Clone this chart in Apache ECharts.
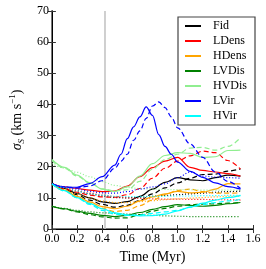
<!DOCTYPE html>
<html><head><meta charset="utf-8">
<script src="https://cdn.jsdelivr.net/npm/echarts@6/dist/echarts.min.js"></script>
<style>html,body{margin:0;padding:0;background:#fff}#c{width:266px;height:269px}</style>
</head><body><div id="c"></div>
<script>
// time grids (Myr)
const T = [0,0.1,0.2,0.3,0.4,0.5,0.6,0.7,0.8,0.9,1.0,1.1,1.2,1.3,1.4,1.5];
const T_LVIR = [0,0.1,0.2,0.3,0.4,0.5,0.55,0.6,0.65,0.7,0.75,0.8,0.85,0.9,0.95,1.0,1.1,1.2,1.3,1.4,1.5];
const X_TICKS = [0.0,0.2,0.4,0.6,0.8,1.0,1.2,1.4,1.6];
const Y_TICKS = [0,10,20,30,40,50,60,70];
const MODELS = ['Fid','LDens','HDens','LVDis','HVDis','LVir','HVir'];
const VLINE_T = 0.424;

// sigma_S (km/s): solid, dashed, dotted per model
const fidSolid   = [14.7,13.0,11.4,10.0,8.7,8.2,8.8,10.5,12.8,15.0,16.5,15.8,15.5,16.5,17.3,17.0];
const fidDashed  = [14.7,12.8,11.0,9.3,7.9,7.0,7.6,9.2,11.3,13.2,14.8,16.3,17.5,17.6,18.6,19.3];
const fidDotted  = [14.5,13.3,12.2,11.3,10.6,10.1,10.0,10.2,10.5,10.8,11.0,11.3,11.5,11.8,12.0,12.2];
const ldSolid    = [14.6,13.5,13.0,12.5,12.0,12.2,13.8,16.8,19.7,21.8,23.0,19.8,18.8,18.3,17.8,17.0];
const ldDashed   = [14.6,13.0,11.8,10.9,10.3,10.2,11.0,13.0,16.3,19.5,21.8,23.5,25.0,24.5,22.0,19.2];
const ldDotted   = [14.5,13.3,12.3,11.5,10.9,10.4,10.0,9.8,9.7,9.6,9.6,9.5,9.5,9.4,9.4,9.3];
const hdSolid    = [14.5,12.5,10.5,8.7,7.2,6.5,7.3,9.0,10.3,11.3,12.1,11.6,11.8,12.8,14.6,14.5];
const hdDashed   = [14.5,12.3,10.2,8.3,6.6,5.6,6.0,7.5,9.3,11.0,12.4,12.8,12.0,11.5,11.5,11.6];
const hdDotted   = [14.2,12.6,11.2,10.0,9.0,8.5,8.5,8.8,9.1,9.4,9.7,9.9,10.1,10.3,10.5,10.6];
const lvdSolid   = [7.3,6.5,5.7,5.0,4.4,4.0,4.4,5.3,6.3,7.2,7.8,7.6,7.3,7.6,8.1,8.5];
const lvdDashed  = [7.3,6.4,5.5,4.6,3.9,3.5,3.6,4.6,5.7,6.6,7.3,7.8,8.0,8.1,8.3,8.5];
const lvdDotted  = [7.3,6.6,6.0,5.5,5.2,5.0,4.8,4.6,4.4,4.2,4.1,4.0,4.0,4.0,4.0,4.0];
const hvdSolid   = [22.3,19.8,17.3,14.9,12.8,12.0,13.5,17.0,21.0,23.6,24.5,24.3,23.0,23.2,25.2,25.3];
const hvdDashed  = [22.0,19.5,17.0,14.8,12.9,12.2,12.6,15.3,19.2,22.3,24.0,26.0,26.2,25.3,26.5,29.3];
const hvdDotted  = [21.0,19.6,18.2,16.8,15.2,14.0,13.3,13.0,12.8,12.7,12.6,12.6,12.5,12.5,12.5,12.5];
const lvSolid    = [14.5,13.4,13.4,14.6,16.8,20.5,24.0,29.0,32.8,36.0,39.2,36.5,30.3,26.5,24.0,21.5,18.5,16.6,14.8,13.6,12.8];
const lvDashed   = [14.5,13.5,13.2,13.8,15.5,19.5,21.8,24.0,28.5,31.5,35.5,39.5,40.8,39.0,36.0,32.5,27.3,23.0,18.3,15.3,13.0];
const lvDotted   = [14.5,13.6,12.8,12.1,11.6,11.5,12.0,12.8,13.5,14.5,16.5,18.3,17.0,16.7,16.5,16.3];
const hvSolid    = [14.5,12.3,10.1,8.2,6.5,5.2,4.5,4.2,4.3,4.8,5.8,7.0,8.3,9.3,10.1,10.7];
const hvDashed   = [14.5,12.2,10.0,7.9,6.0,4.8,4.4,4.5,5.0,5.5,6.0,7.0,7.8,8.5,9.0,9.5];
const hvDotted   = [14.5,13.3,12.2,11.3,10.8,10.5,10.4,10.4,10.5,10.5,10.6,10.6,10.7,10.7,10.8,10.8];

const COLORS = {Fid:'#000000',LDens:'#ff0000',HDens:'#ffa500',LVDis:'#008000',HVDis:'#90ee90',LVir:'#0000ff',HVir:'#00ffff'};
const SETS = [
  ['Fid',  T, fidSolid, fidDashed, fidDotted, T],
  ['LDens',T, ldSolid, ldDashed, ldDotted, T],
  ['HDens',T, hdSolid, hdDashed, hdDotted, T],
  ['LVDis',T, lvdSolid, lvdDashed, lvdDotted, T],
  ['HVDis',T, hvdSolid, hvdDashed, hvdDotted, T],
  ['LVir', T_LVIR, lvSolid, lvDashed, lvDotted, T],
  ['HVir', T, hvSolid, hvDashed, hvDotted, T]
];
const zip = (xs, ys) => xs.map((x,i)=>[x, ys[i]]);
const series = [];
const styles = [['solid', null], ['dashed', [5,3]], ['dotted', [1,2]]];
SETS.forEach(([name, tx, s, d, o, tOther]) => {
  const arrs = [[tx, s], [tx, d], [tOther, o]];
  styles.forEach(([k, dash], i) => {
    series.push({
      type: 'line', name: i === 0 ? name : name + ' ' + k,
      data: zip(arrs[i][0], arrs[i][1]),
      showSymbol: false, smooth: 0.35, smoothMonotone: 'x',
      lineStyle: {color: COLORS[name], width: 1.2, type: dash || 'solid'},
      itemStyle: {color: COLORS[name]},
      silent: true, z: 3
    });
  });
});
series[0].markLine = {
  silent: true, symbol: 'none', label: {show: false},
  lineStyle: {color: '#c4c4c4', width: 1.6, type: 'solid'},
  data: [{xAxis: VLINE_T}], z: 1
};

const FONT = 'Liberation Serif';
const chart = echarts.init(document.getElementById('c'), null, {renderer: 'canvas'});
const xBase = {type: 'value', min: X_TICKS[0], max: X_TICKS[X_TICKS.length-1], interval: 0.2, splitLine: {show: false}};
const yBase = {type: 'value', min: Y_TICKS[0], max: Y_TICKS[Y_TICKS.length-1], interval: 10, splitLine: {show: false}};
chart.setOption({
  animation: false,
  backgroundColor: '#fff',
  grid: {left: 38, right: 13, top: 11, bottom: 37},
  legend: {
    data: MODELS, orient: 'vertical', left: 178, top: 17,
    icon: 'rect', itemWidth: 16, itemHeight: 2, itemGap: 1,
    backgroundColor: '#fff', borderColor: '#444', borderWidth: 1.2,
    padding: [2, 8, 2, 7], selectedMode: false,
    textStyle: {fontFamily: FONT, fontSize: 12, color: '#000', lineHeight: 14, padding: [0,0,0,7]}
  },
  xAxis: [
    Object.assign({}, xBase, {
      position: 'bottom', name: 'Time (Myr)', nameLocation: 'middle', nameGap: 21,
      nameTextStyle: {fontFamily: FONT, fontSize: 14, color: '#000'},
      axisLine: {lineStyle: {color: '#777', width: 2}},
      axisTick: {inside: true, length: 4, lineStyle: {color: '#333'}},
      axisLabel: {fontFamily: FONT, fontSize: 12, color: '#000', margin: 4, formatter: v => v.toFixed(1)}
    }),
    Object.assign({}, xBase, {
      position: 'top', axisLine: {lineStyle: {color: '#000', width: 1}},
      axisTick: {inside: true, length: 4, lineStyle: {color: '#333'}}, axisLabel: {show: false}
    })
  ],
  yAxis: [
    Object.assign({}, yBase, {
      position: 'left', nameLocation: 'middle', nameGap: 20,
      name: '{a|σ}{b|S} (km s{c|−1})',
      nameTextStyle: {fontFamily: FONT, fontSize: 14, color: '#000', lineHeight: 18,
        rich: {
          a: {fontFamily: FONT, fontSize: 14, fontStyle: 'italic', lineHeight: 18},
          b: {fontFamily: FONT, fontSize: 9, fontStyle: 'italic', lineHeight: 9, verticalAlign: 'bottom'},
          c: {fontFamily: FONT, fontSize: 9, lineHeight: 9, verticalAlign: 'top'}
        }},
      axisLine: {lineStyle: {color: '#777', width: 2}},
      axisTick: {inside: true, length: 4, lineStyle: {color: '#333'}},
      axisLabel: {fontFamily: FONT, fontSize: 12, color: '#000', margin: 3}
    }),
    Object.assign({}, yBase, {
      position: 'right', axisLine: {lineStyle: {color: '#000', width: 1}},
      axisTick: {inside: true, length: 4, lineStyle: {color: '#333'}}, axisLabel: {show: false}
    })
  ],
  series: series
});
</script></body></html>
